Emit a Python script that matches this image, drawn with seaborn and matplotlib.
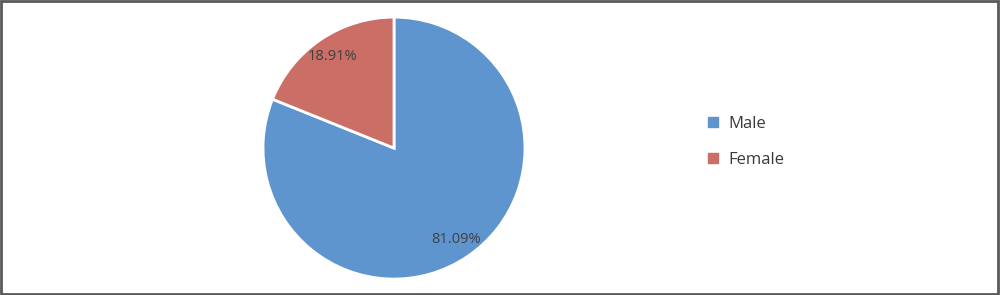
import matplotlib
matplotlib.use("Agg")
import matplotlib.pyplot as plt
import seaborn as sns
from matplotlib.patches import Rectangle
from matplotlib.lines import Line2D

categories = ["Male", "Female"]
values = [81.09, 18.91]
colors = ["#5f95cf", "#cb6e66"]

sns.set_style("white")
plt.rcParams['font.family'] = ['Open Sans', 'DejaVu Sans']

fig = plt.figure(figsize=(10, 2.95), dpi=100)
ax = fig.add_axes([0.263, 0.054, 0.262, 0.888])
wedges, texts, autotexts = ax.pie(
    values, colors=sns.color_palette(colors), startangle=90, counterclock=False,
    autopct=lambda p: f"{p:.2f}%", pctdistance=0.84,
    wedgeprops=dict(edgecolor="white", linewidth=2),
    textprops=dict(fontsize=10.5, color="#404040"))
ax.set_xlim(-1, 1)
ax.set_ylim(-1, 1)
ax.set_aspect("equal")

handles = [Line2D([], [], marker="s", linestyle="", markersize=7,
                  markerfacecolor=c, markeredgecolor=c) for c in colors]
fig.legend(handles, categories, loc="center left", bbox_to_anchor=(0.690, 0.52),
           frameon=False, fontsize=12, labelspacing=1.2, handlelength=1.0,
           handletextpad=0.4, labelcolor="#3a3a3a")

fig.patches.append(Rectangle((0.001, 0.002), 0.997, 0.995, transform=fig.transFigure,
                             fill=False, edgecolor="#595959", linewidth=2))
fig.savefig("out.png", dpi=100)
